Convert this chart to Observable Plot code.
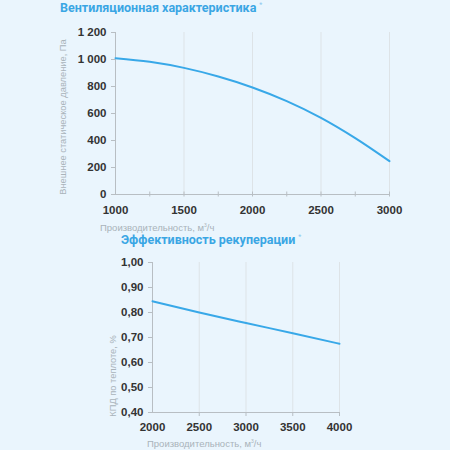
<!DOCTYPE html>
<html>
<head>
<meta charset="utf-8">
<script src="https://cdn.jsdelivr.net/npm/d3@7"></script>
<script src="https://cdn.jsdelivr.net/npm/@observablehq/plot@0.6"></script>
<style>
  body { margin: 0; background: #eaf5fd; }
  #wrap { position: relative; width: 450px; height: 450px; overflow: hidden; font-family: "Liberation Sans", sans-serif; }
  #wrap svg { position: absolute; left: 0; }
  .title { position: absolute; font-family: Roboto, sans-serif; font-weight: bold; font-size: 12.5px; color: #3aa6e4; white-space: nowrap; }
  .title sup { font-size: 7px; color: #8cc8ee; font-weight: normal; margin-left: 3px; }
  .xlab { position: absolute; font-size: 9.5px; color: #a9b3ba; white-space: nowrap; }
  .xlab sup { font-size: 5px; }
  .ylab { position: absolute; font-size: 9.3px; color: #a9b3ba; white-space: nowrap; transform: translate(-50%, -50%) rotate(-90deg); }
</style>
</head>
<body>
<div id="wrap">
  <div class="title" style="left:60px; top:0px;">Вентиляционная характеристика<sup>*</sup></div>
  <div class="ylab" style="left:63px; top:117px;">Внешнее статическое давление, Па</div>
  <div class="xlab" style="left:100px; top:222px;">Производительность, м<sup>3</sup>/ч</div>
  <div class="title" style="left:121px; top:232px;">Эффективность рекуперации<sup>*</sup></div>
  <div class="ylab" style="left:113px; top:376px;">КПД по теплоте, %</div>
  <div class="xlab" style="left:147px; top:438px;">Производительность, м<sup>3</sup>/ч</div>
</div>
<script>
// вентиляционная характеристика
const flowP = [1000, 1250, 1500, 1750, 2000, 2250, 2500, 2750, 3000]
const pressure = [1010, 983, 938, 874, 793, 692, 568, 418, 247]
const xTicksP = [1000, 1500, 2000, 2500, 3000]
const xMinorP = [1250, 1500, 1750, 2000, 2250, 2500, 2750, 3000]
const yTicksP = [0, 200, 400, 600, 800, 1000, 1200]

// эффективность рекуперации
const flowE = [2000, 2500, 3000, 3500, 4000]
const eff = [0.845, 0.80, 0.758, 0.717, 0.675]
const xTicksE = [2000, 2500, 3000, 3500, 4000]
const yTicksE = [0.4, 0.5, 0.6, 0.7, 0.8, 0.9, 1.0]

const lineColor = '#38a8e8'
const axisColor = '#b8bec3'
const gridColor = '#dde3e7'

const fmtSpace = d => d >= 1000 ? String(d).replace(/(\d)(\d{3})$/, '$1 $2') : String(d)
const fmtComma = d => d.toFixed(2).replace('.', ',')

const baseStyle = {
  background: 'transparent',
  fontFamily: '"Liberation Sans", sans-serif',
  fontSize: '11.5px',
  color: '#333',
  overflow: 'visible',
}

let chartP = Plot.plot({
  width: 450,
  height: 240,
  marginLeft: 115,
  marginRight: 61,
  marginTop: 32,
  marginBottom: 46,
  style: baseStyle,
  x: {domain: [1000, 3000], label: null},
  y: {domain: [0, 1200], label: null},
  marks: [
    Plot.gridX(xTicksP.slice(1), {stroke: gridColor, strokeOpacity: 1}),
    Plot.ruleY([0], {stroke: axisColor}),
    Plot.ruleX([1000], {stroke: axisColor}),
    Plot.axisX(xMinorP, {tickSize: 5, dy: -2.5, text: null, stroke: axisColor}),
    Plot.axisX(xTicksP, {tickSize: 0, tickPadding: 11, tickFormat: d => String(d), fontWeight: 'bold', fill: '#333'}),
    Plot.axisY(yTicksP, {tickSize: 4, tickPadding: 5, tickFormat: fmtSpace, stroke: axisColor, fontWeight: 'bold', fill: '#333'}),
    Plot.line(flowP, {x: d => d, y: (d, i) => pressure[i], stroke: lineColor, strokeWidth: 2, curve: 'monotone-x'}),
  ],
})

let chartE = Plot.plot({
  width: 450,
  height: 225,
  marginLeft: 152,
  marginRight: 111,
  marginTop: 37,
  marginBottom: 38,
  style: baseStyle,
  x: {domain: [2000, 4000], label: null},
  y: {domain: [0.4, 1.0], label: null},
  marks: [
    Plot.gridX(xTicksE.slice(1), {stroke: gridColor, strokeOpacity: 1}),
    Plot.ruleY([0.4], {stroke: axisColor}),
    Plot.ruleX([2000], {stroke: axisColor}),
    Plot.axisX(xTicksE.slice(1), {tickSize: 4, text: null, stroke: axisColor}),
    Plot.axisX(xTicksE, {tickSize: 0, tickPadding: 10, tickFormat: d => String(d), fontWeight: 'bold', fill: '#333'}),
    Plot.axisY(yTicksE, {tickSize: 4, tickPadding: 5, tickFormat: fmtComma, stroke: axisColor, fontWeight: 'bold', fill: '#333'}),
    Plot.line(flowE, {x: d => d, y: (d, i) => eff[i], stroke: lineColor, strokeWidth: 2, curve: 'monotone-x'}),
  ],
})

chartP.style.top = '0px'
chartE.style.top = '225px'
d3.select('#wrap').append(() => chartP)
d3.select('#wrap').append(() => chartE)
</script>
</body>
</html>
